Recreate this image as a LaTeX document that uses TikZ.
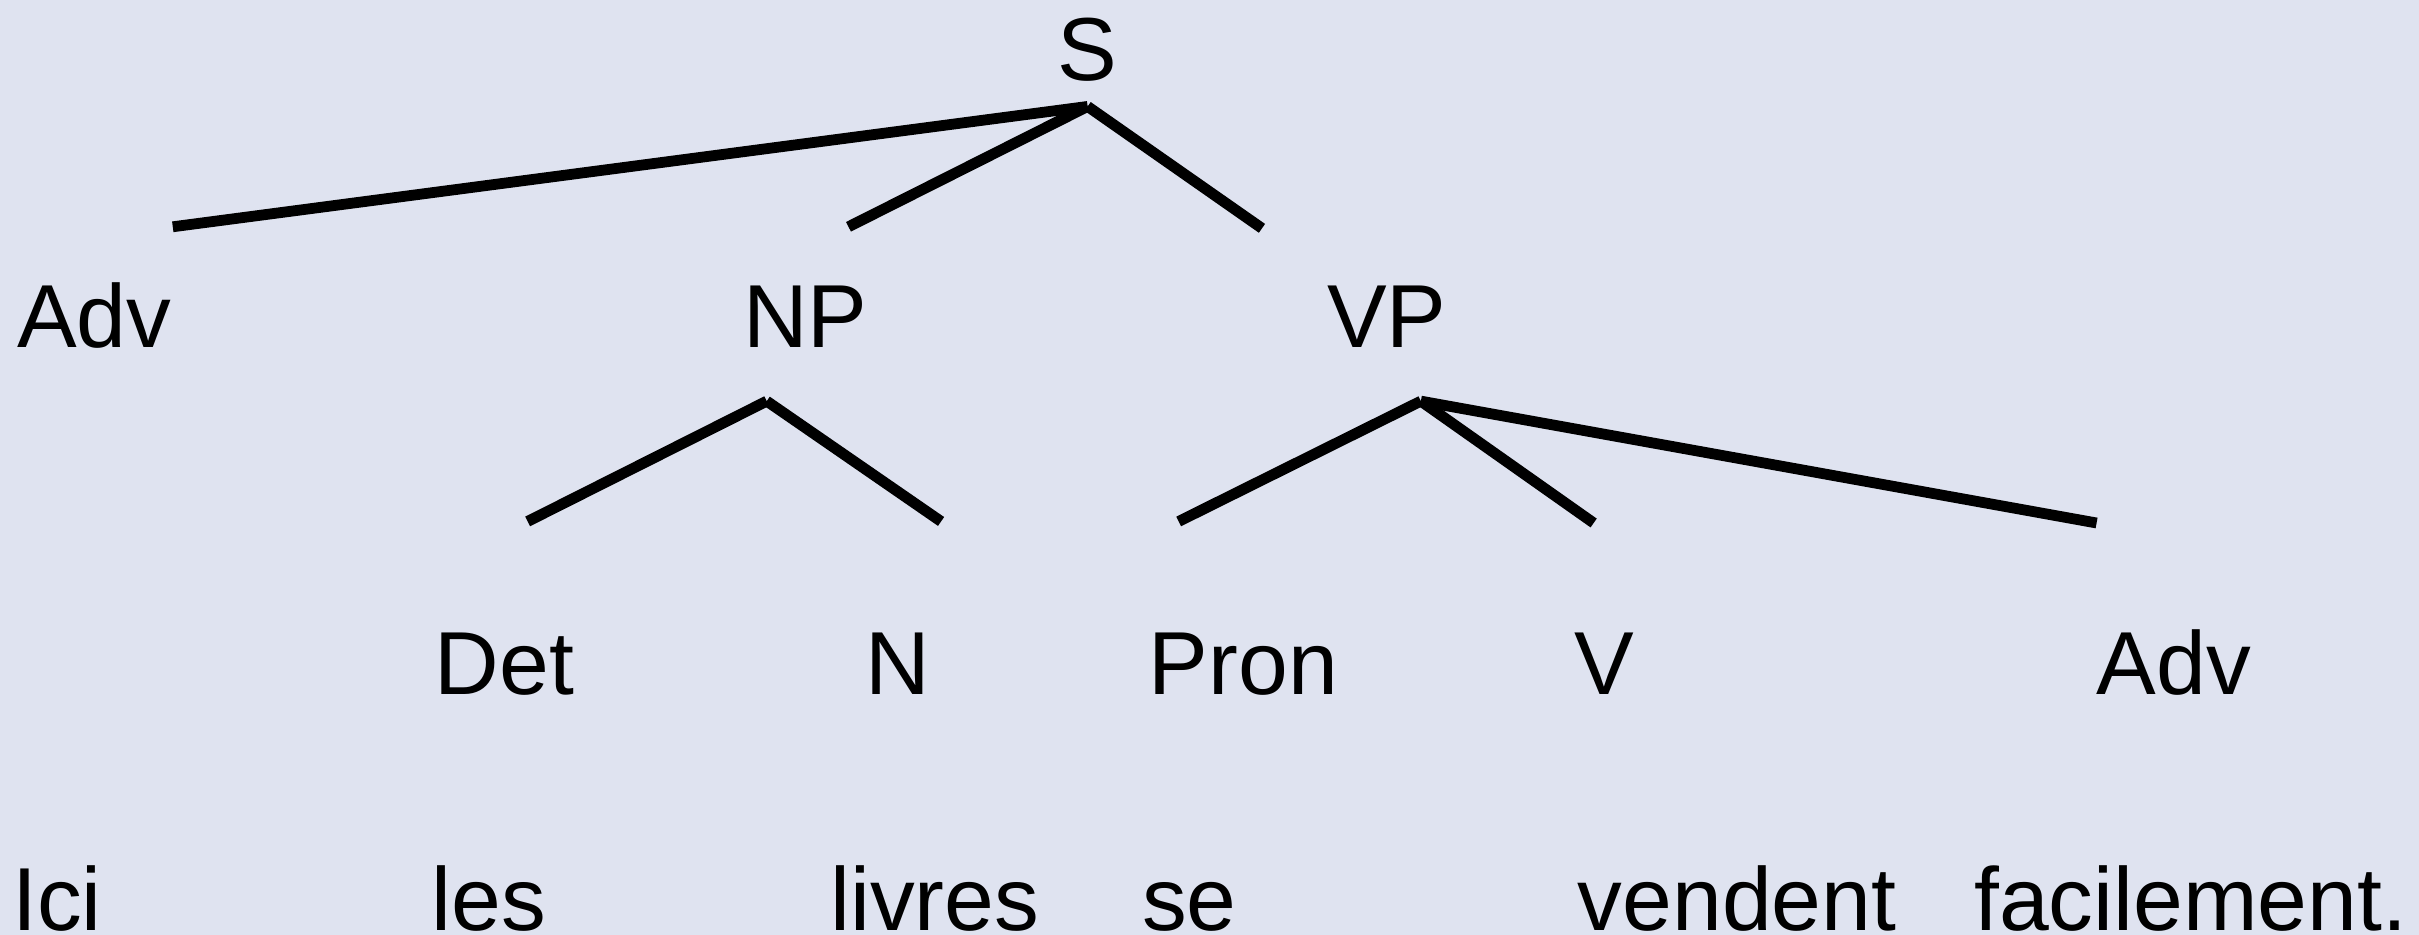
\documentclass[tikz,border=0pt]{standalone}
\usepackage{fontspec}
\setmainfont{Liberation Sans}
\usetikzlibrary{calc}
\definecolor{paper}{RGB}{223,227,240}

\begin{document}
\begin{tikzpicture}[x=1pt,y=-1pt,
    cat/.style={inner sep=0pt,anchor=base,font=\fontsize{58}{70}\selectfont},
    branch/.style={line width=7pt,line cap=butt}]
  \fill[paper] (0,0) rectangle (1568,606);
  \useasboundingbox (0,0) rectangle (1568,606);

  % categories
  \node[cat] (S)    at (705,52)   {S};
  \node[cat] (adv1) at (61,225)   {Adv};
  \node[cat] (np)   at (522,225)  {NP};
  \node[cat] (vp)   at (899,225)  {VP};
  \node[cat] (det)  at (327,450)  {Det};
  \node[cat] (n)    at (582,450)  {N};
  \node[cat] (pron) at (806,450)  {Pron};
  \node[cat] (v)    at (1040,450) {V};
  \node[cat] (adv2) at (1409,450) {Adv};

  % words
  \node[cat] (w1) at (37,603)   {Ici};
  \node[cat] (w2) at (317,603)  {les};
  \node[cat] (w3) at (606,603)  {livres};
  \node[cat] (w4) at (771,603)  {se};
  \node[cat] (w5) at (1126,603) {vendent};
  \node[cat] (w6) at (1420,603) {facilement.};

  % branch ends
  \coordinate (S-foot)   at (705,69);
  \coordinate (np-foot)  at (497,260);
  \coordinate (vp-foot)  at (921,260);
  \coordinate (adv1-top) at (112,147);
  \coordinate (np-top)   at (550,147);
  \coordinate (vp-top)   at (818,148);
  \coordinate (det-top)  at (342,338);
  \coordinate (n-top)    at (610,338);
  \coordinate (pron-top) at (764,338);
  \coordinate (v-top)    at (1033,339);
  \coordinate (adv2-top) at (1359,339);

  \path[branch]
    (S-foot) edge (adv1-top)
    (S-foot) edge (np-top)
    (S-foot) edge (vp-top)

    (np-foot) edge (det-top)
    (np-foot) edge (n-top)

    (vp-foot) edge (pron-top)
    (vp-foot) edge (v-top)
    (vp-foot) edge (adv2-top)
    ;

\end{tikzpicture}
\end{document}
